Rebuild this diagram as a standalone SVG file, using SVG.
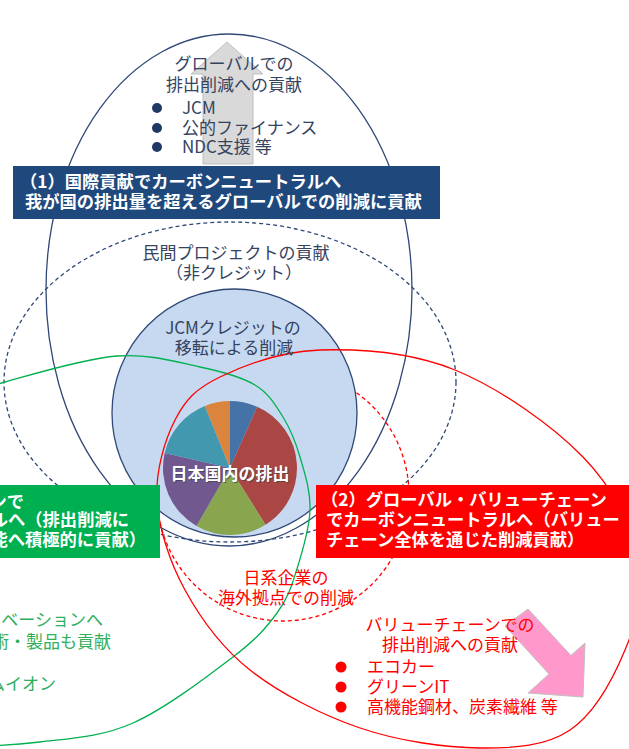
<svg xmlns="http://www.w3.org/2000/svg" width="629" height="749" viewBox="0 0 629 749">
<style>
.t{font-family:'Noto Sans CJK JP','Noto Sans CJK SC',sans-serif;font-size:17px}
.navy{fill:#34435F}
.wb{fill:#fff;font-weight:bold;font-size:17.3px}
.red{fill:#FF0000}
.grn{fill:#2FAE5C}
.ln{fill:none;stroke-width:1.3}
.dash{stroke-dasharray:4 3}
</style>
<rect width="629" height="749" fill="#fff"/>
<g id="arrows">
<polygon points="227,42 263,74 253,74 253,164 203,164 203,74 191,74" fill="#D9D9D9" stroke="#BFBFBF" stroke-width="1"/>
</g>
<g id="global-ellipse">
<ellipse class="ln" cx="229" cy="290" rx="183" ry="256" stroke="#2F4877"/>
</g>
<g id="private-ellipse">
<ellipse class="ln dash" cx="230" cy="382" rx="226" ry="160" stroke="#2F4877"/>
</g>
<g id="overseas-circle">
<circle class="ln dash" cx="283" cy="495" r="126" stroke="#FF0000"/>
</g>
<g id="jcm-ellipse">
<ellipse cx="234.5" cy="413" rx="122.5" ry="124" fill="#C6D9F0" stroke="#2F4877" stroke-width="1.3"/>
</g>
<g id="domestic-pie">
<path d="M230,468 L230,401 A67,67 0 0 1 257.2,406.8 Z" fill="#4572A7"/>
<path d="M230,468 L257.2,406.8 A67,67 0 0 1 265.5,524.8 Z" fill="#AA4643"/>
<path d="M230,468 L265.5,524.8 A67,67 0 0 1 196.5,526 Z" fill="#89A54E"/>
<path d="M230,468 L196.5,526 A67,67 0 0 1 164.7,452.9 Z" fill="#71588F"/>
<path d="M230,468 L164.7,452.9 A67,67 0 0 1 204.9,405.9 Z" fill="#4198AF"/>
<path d="M230,468 L204.9,405.9 A67,67 0 0 1 230,401 Z" fill="#DB843D"/>
<text class="t" x="231" y="481" text-anchor="middle" font-size="16.5" font-weight="bold" fill="#3A3A3A" opacity="0.6">日本国内の排出</text>
<text class="t" x="230" y="480" text-anchor="middle" font-size="16.5" font-weight="bold" fill="#fff">日本国内の排出</text>
</g>
<g id="innovation-ellipse">
<path class="ln" stroke="#00B050" d="M-40,400 C-30,396 -21.2,389.3 5,382 C31.2,374.7 84.5,358.5 117,356 C149.5,353.5 177,362.2 200,367 C223,371.8 241.2,376.7 255,385 C268.8,393.3 275.5,405 283,417 C290.5,429 295.5,441.5 300,457 C304.5,472.5 310.7,490.8 310,510 C309.3,529.2 301.5,554.8 296,572 C290.5,589.2 287.5,598.8 277,613 C266.5,627.2 257,638.7 233,657 C209,675.3 165.2,708.8 133,723 C100.8,737.2 72.2,738.3 40,742 C7.8,745.7 -28.3,747 -60,745"/>
</g>
<g id="valuechain-ellipse">
<path class="ln" stroke="#FF0000" d="M157,500 C155.3,471.7 164.5,440.5 175,420 C185.5,399.5 195.8,388.7 220,377 C244.2,365.3 280.8,351.2 320,350 C359.2,348.8 411.2,352.2 455,370 C498.8,387.8 552.2,425.3 583,457 C613.8,488.7 633,527.8 640,560 C647,592.2 636.7,621.7 625,650 C613.3,678.3 594.2,713.7 570,730 C545.8,746.3 515,748.3 480,748 C445,747.7 398.3,741 360,728 C321.7,715 279.2,693 250,670 C220.8,647 200.5,618.3 185,590 C169.5,561.7 158.7,528.3 157,500 Z"/>
</g>
<g id="arrow-valuechain">
<polygon points="528,609 570.9,655.4 585,643 583,697 528,693 549,674 505,626" fill="#FF99CC" stroke="#BFBFBF" stroke-width="1"/>
</g>
<g id="global-label">
<text class="t navy" x="234" y="70" text-anchor="middle">グローバルでの</text>
<text class="t navy" x="234" y="91" text-anchor="middle">排出削減への貢献</text>
<circle cx="157" cy="108" r="5" fill="#1F3864"/>
<circle cx="157" cy="128" r="5" fill="#1F3864"/>
<circle cx="157" cy="147" r="5" fill="#1F3864"/>
<text class="t navy" x="182" y="114">JCM</text>
<text class="t navy" x="182" y="134">公的ファイナンス</text>
<text class="t navy" x="182" y="153">NDC支援 等</text>
</g>
<g id="box1">
<rect x="13" y="166" width="427" height="53" fill="#1F497D"/>
<text class="t wb" x="20" y="188">（1）国際貢献でカーボンニュートラルへ</text>
<text class="t wb" x="25" y="208">我が国の排出量を超えるグローバルでの削減に貢献</text>
</g>
<g id="private-label">
<text class="t navy" x="236" y="259" text-anchor="middle">民間プロジェクトの貢献</text>
<text class="t navy" x="234" y="279" text-anchor="middle">（非クレジット）</text>
</g>
<g id="jcm-label">
<text class="t navy" x="233" y="334" text-anchor="middle">JCMクレジットの</text>
<text class="t navy" x="234" y="354" text-anchor="middle">移転による削減</text>
</g>
<g id="box3">
<rect x="-5" y="485" width="165" height="73" fill="#00B050"/>
<text class="t wb" x="24" y="508" text-anchor="end">ンで</text>
<text class="t wb" x="129" y="526" text-anchor="end">ルへ（排出削減に</text>
<text class="t wb" x="146" y="546" text-anchor="end">能へ積極的に貢献）</text>
</g>
<g id="innovation-label">
<text class="t grn" x="103" y="626" text-anchor="end">ベーションへ</text>
<text class="t grn" x="111" y="648" text-anchor="end">術・製品も貢献</text>
<text class="t grn" x="56" y="690" text-anchor="end">ムイオン</text>
</g>
<g id="box2">
<rect x="316" y="485" width="320" height="73" fill="#FF0000"/>
<text class="t wb" x="321" y="506">（2）グローバル・バリューチェーン</text>
<text class="t wb" x="326" y="526">でカーボンニュートラルへ（バリュー</text>
<text class="t wb" x="326" y="546">チェーン全体を通じた削減貢献）</text>
</g>
<g id="overseas-label">
<text class="t red" x="286" y="584" text-anchor="middle">日系企業の</text>
<text class="t red" x="286" y="604" text-anchor="middle">海外拠点での削減</text>
</g>
<g id="valuechain-label">
<text class="t red" x="450" y="631" text-anchor="middle">バリューチェーンでの</text>
<text class="t red" x="450" y="651" text-anchor="middle">排出削減への貢献</text>
<circle cx="341" cy="667" r="5.5" fill="#FF0000"/>
<circle cx="341" cy="687" r="5.5" fill="#FF0000"/>
<circle cx="341" cy="707" r="5.5" fill="#FF0000"/>
<text class="t red" x="367" y="673">エコカー</text>
<text class="t red" x="367" y="693">グリーンIT</text>
<text class="t red" x="367" y="713">高機能鋼材、炭素繊維 等</text>
</g>
</svg>
